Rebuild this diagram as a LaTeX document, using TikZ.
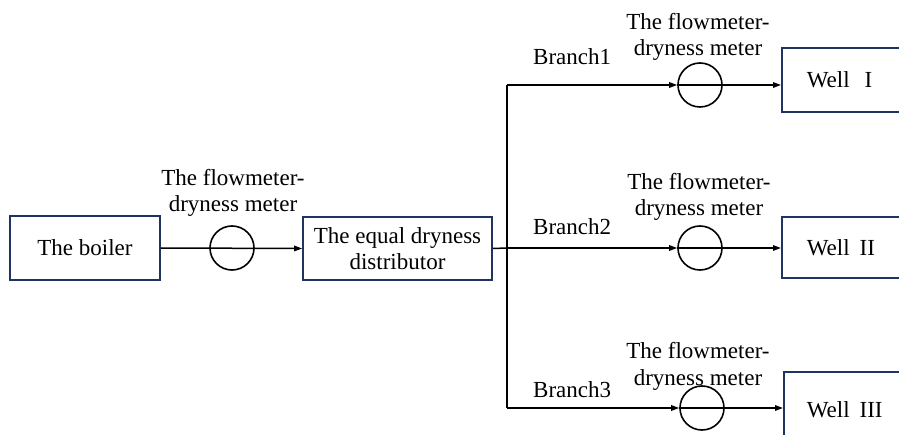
\documentclass[tikz,border=0pt]{standalone}
\usepackage{fontspec}
\setmainfont{Liberation Serif}
\usetikzlibrary{arrows.meta}
\definecolor{boxblue}{RGB}{31,52,96}
\tikzset{
  every node/.style={font=\fontsize{23}{26.5}\selectfont},
  block/.style={draw=boxblue, line width=1.6pt, inner sep=0pt},
  meter/.style={draw=black, circle, line width=1.6pt, minimum size=44pt, inner sep=0pt},
  wellbox/.style={block, anchor=west, text width=110pt, inner xsep=25pt, align=left},
  lbl/.style={anchor=base, align=center, inner sep=0pt},
  pipe/.style={draw=black, line width=1.5pt},
  arr/.style={pipe, -{Triangle[length=8pt,width=5.5pt]}}
}
\begin{document}
\begin{tikzpicture}[x=1pt,y=-1pt]
\useasboundingbox (0,0) rectangle (899,435);
\clip (0,0) rectangle (899,435);

% equipment boxes
\node[block, minimum width=150pt, minimum height=64pt] (boiler) at (85,248) {The boiler};
\node[block, minimum width=189pt, minimum height=63pt, align=center] (dist) at (397.5,248.5)
  {The equal dryness\\distributor};
\node[wellbox, minimum height=64pt] (well1) at (781,80) {Well\hspace{15pt}I};
\node[wellbox, minimum height=61pt] (well2) at (781,247.5) {Well\hspace{10pt}II};
\node[wellbox, minimum height=76pt, inner xsep=23pt] (well3) at (783,410) {Well\hspace{10pt}III};

% flowmeter-dryness meters
\node[meter] (m0) at (232,248) {};
\node[meter] (m1) at (700,85) {};
\node[meter] (m2) at (700,248) {};
\node[meter] (m3) at (702,408) {};

% meter captions (base anchor sits on the second line)
\node[lbl] (t0) at (233,212) {The flowmeter-\\dryness meter};
\node[lbl] (t1) at (698,56) {The flowmeter-\\dryness meter};
\node[lbl] (t2) at (699,216) {The flowmeter-\\dryness meter};
\node[lbl] (t3) at (698,385) {The flowmeter-\\dryness meter};

% branch captions
\node[anchor=base west, inner sep=0pt] (b1) at (533,65) {Branch1};
\node[anchor=base west, inner sep=0pt] (b2) at (533,235) {Branch2};
\node[anchor=base west, inner sep=0pt] (b3) at (533,397) {Branch3};

% manifold junctions
\coordinate (j1) at (507,85);
\coordinate (j2) at (507,248);
\coordinate (j3) at (507,408);

% main line through the first meter
\draw[arr] (boiler.east) -- (dist.west);

% manifold and branches
\draw[pipe] (j1) -- (j3);
\draw[pipe] (dist.east) -- (j2);
\draw[arr] (j1) -- (m1.west);
\draw[arr] (m1.west) -- (m1.west -| well1.west);
\draw[arr] (j2) -- (m2.west);
\draw[arr] (m2.west) -- (m2.west -| well2.west);
\draw[arr] (j3) -- (m3.west);
\draw[arr] (m3.west) -- (m3.west -| well3.west);
\end{tikzpicture}
\end{document}
